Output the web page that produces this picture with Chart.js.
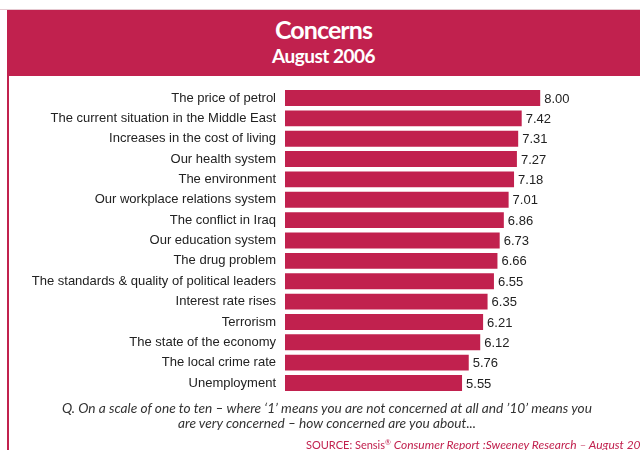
<!DOCTYPE html>
<html>
<head>
<meta charset="utf-8">
<script src="https://cdn.jsdelivr.net/npm/chart.js@4.4.1/dist/chart.umd.min.js"></script>
<style>
  html, body { margin: 0; padding: 0; background: #fff; }
  body { width: 640px; height: 450px; position: relative; overflow: hidden; }
  #topline { position: absolute; left: 0; top: 9px; width: 640px; height: 1px; background: #e6c9d1; }
  #header { position: absolute; left: 7px; top: 10px; width: 633px; height: 66px; background: #C1214E; color: #fff; text-align: center; font-family: Lato, "Open Sans", sans-serif; }
  #header .t1 { position: absolute; left: 0; right: 0; top: 4px; font-size: 25px; line-height: 30px; font-weight: 700; letter-spacing: -0.9px; }
  #header .t2 { position: absolute; left: 0; right: 0; top: 34px; font-size: 19px; line-height: 24px; font-weight: 700; letter-spacing: -0.5px; }
  #leftrule { position: absolute; left: 7px; top: 76px; width: 2px; height: 374px; background: #C1214E; }
  #chartbox { position: absolute; left: 0; top: 71px; width: 640px; height: 339px; }
  .note { position: absolute; left: 7px; width: 640px; text-align: center; font-family: Lato, "Open Sans", sans-serif; font-style: italic; font-size: 13.7px; color: #333; white-space: nowrap; line-height: 16px; }
  #source { position: absolute; left: 306px; top: 434px; font-family: Lato, "Open Sans", sans-serif; font-size: 11px; color: #C1214E; white-space: nowrap; line-height: 16px; }
  #source i { font-style: italic; font-size: 12px; }
  #source sup { font-size: 7px; vertical-align: 4px; }
</style>
</head>
<body>
<div id="topline"></div>
<div id="header"><div class="t1">Concerns</div><div class="t2">August 2006</div></div>
<div id="leftrule"></div>
<div id="chartbox"><canvas id="c" width="640" height="339"></canvas></div>
<div class="note" style="top:400px">Q. On a scale of one to ten – where ‘1’ means you are not concerned at all and ’10’ means you</div>
<div class="note" style="top:415px">are very concerned – how concerned are you about...</div>
<div id="source">SOURCE: Sensis<sup>®</sup> <i>Consumer Report :Sweeney Research – August 2006</i></div>

<script>
// Issues ranked by average concern score (scale 1–10)
const categories = [
  'The price of petrol',
  'The current situation in the Middle East',
  'Increases in the cost of living',
  'Our health system',
  'The environment',
  'Our workplace relations system',
  'The conflict in Iraq',
  'Our education system',
  'The drug problem',
  'The standards & quality of political leaders',
  'Interest rate rises',
  'Terrorism',
  'The state of the economy',
  'The local crime rate',
  'Unemployment'
];
const scores = [8.00, 7.42, 7.31, 7.27, 7.18, 7.01, 6.86, 6.73, 6.66, 6.55, 6.35, 6.21, 6.12, 5.76, 5.55];

const crimson = '#C1214E';

// Writes each score just past the end of its bar
const valueLabels = {
  id: 'valueLabels',
  afterDatasetsDraw(chart) {
    const ctx = chart.ctx;
    const meta = chart.getDatasetMeta(0);
    ctx.save();
    ctx.font = '13px "Liberation Sans", Arial, sans-serif';
    ctx.fillStyle = '#222';
    ctx.textAlign = 'left';
    ctx.textBaseline = 'middle';
    meta.data.forEach((bar, i) => {
      ctx.fillText(scores[i].toFixed(2), bar.x + 4, bar.y + 1);
    });
    ctx.restore();
  }
};

new Chart(document.getElementById('c'), {
  type: 'bar',
  data: {
    labels: categories,
    datasets: [{
      data: scores,
      backgroundColor: crimson,
      borderWidth: 0,
      barPercentage: 0.78,
      categoryPercentage: 1.0
    }]
  },
  options: {
    indexAxis: 'y',
    responsive: false,
    animation: false,
    events: [],
    layout: { padding: { top: 7, bottom: 6, left: 0, right: 36 } },
    plugins: {
      legend: { display: false },
      tooltip: { enabled: false }
    },
    scales: {
      x: {
        display: false,
        min: 0,
        max: 10
      },
      y: {
        afterFit(scale) { scale.width = 285; },
        border: { display: false },
        grid: { display: false, drawTicks: false },
        ticks: {
          padding: 9,
          color: '#222',
          font: { family: '"Liberation Sans", Arial, sans-serif', size: 13 }
        }
      }
    }
  },
  plugins: [valueLabels]
});
</script>
</body>
</html>
